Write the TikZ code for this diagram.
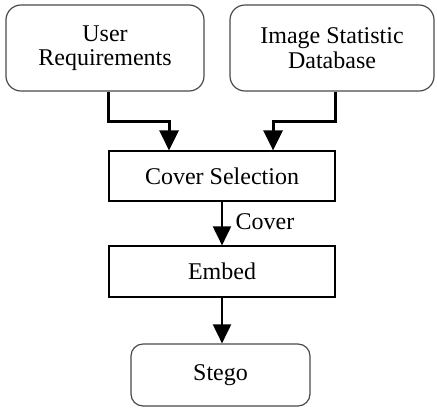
\documentclass[tikz,border=0pt]{standalone}
\usepackage{fontspec}
\setmainfont{Liberation Serif}
\usepackage{tikz}
\usetikzlibrary{arrows.meta,positioning,calc}
\definecolor{ink}{HTML}{000000}
\definecolor{rim}{HTML}{4A4A4A}

\begin{document}
\begin{tikzpicture}[x=0.5pt,y=-0.5pt,
    font=\fontsize{12}{12.2}\selectfont,
    softbox/.style={draw=rim,line width=0.6pt,rounded corners=7.5pt,align=center,inner sep=0pt},
    plainbox/.style={draw=ink,line width=0.6pt,align=center,inner sep=0pt,minimum width=113pt},
    feed/.style={draw=ink,line width=1.5pt,-{Triangle[length=10pt,width=9.5pt]}},
    flow/.style={draw=ink,line width=1pt,-{Triangle[length=9.5pt,width=9pt]}}]
      \useasboundingbox (0,0) rectangle (437,413);
      \node[softbox,minimum width=99pt,minimum height=43pt] (user) at (105,48) {User\\Requirements};
      \node[softbox,minimum width=102pt,minimum height=43pt] (stats) at (332,48) {Image Statistic\\Database};
      \node[plainbox,minimum height=25pt] (select) at (222,176) {Cover Selection};
      \node[plainbox,minimum height=25.5pt] (embed) at (222,271.5) {Embed};
      \node[softbox,rounded corners=6pt,minimum width=89.5pt,minimum height=31pt] (stego) at (220.5,375) {Stego};
      \draw[feed] ([xshift=1.5pt]user.south) -- ++(0,-15pt) -| ([xshift=-26.5pt]select.north);
      \draw[feed] ([xshift=1.5pt]stats.south) -- ++(0,-15pt) -| ([xshift=25.5pt]select.north);
      \draw[flow] (select) -- node[right,xshift=3pt,yshift=1pt] {Cover} (embed);
      \draw[flow] (embed) -- (embed |- stego.north);
    \end{tikzpicture}
\end{document}
